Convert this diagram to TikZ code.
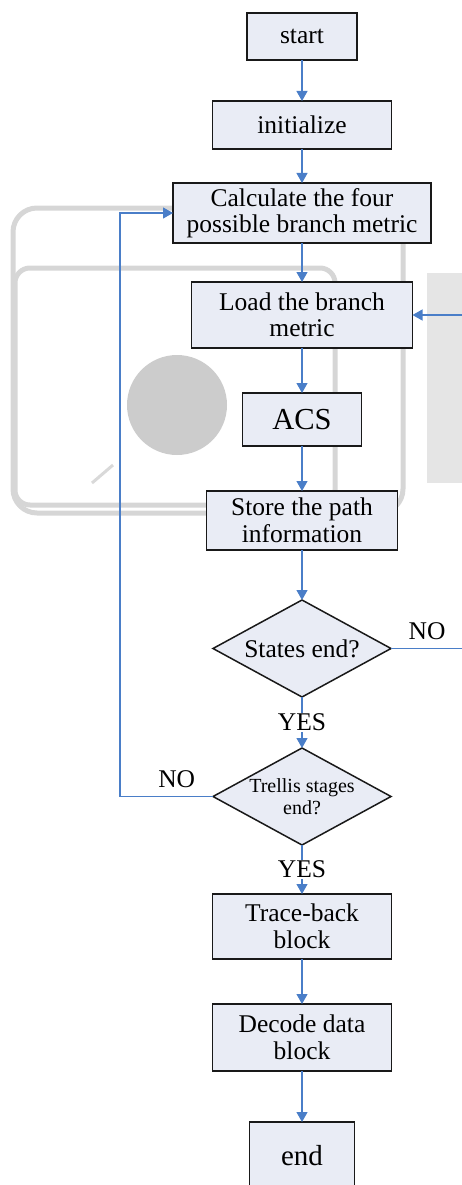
\documentclass[tikz,border=0pt]{standalone}
\usepackage{fontspec}
\setmainfont{Liberation Serif}
\usetikzlibrary{arrows.meta,positioning,shapes.geometric}
\definecolor{boxfill}{HTML}{E9ECF5}
\definecolor{flowblue}{HTML}{4A7EC8}
\definecolor{markgray}{HTML}{D6D6D6}
\begin{document}
\begin{tikzpicture}[
  x=1pt,y=1pt,
  font=\fontsize{25.5}{26.5}\selectfont,
  cell/.style={draw=black!90,line width=1.5pt,fill=boxfill,align=center,inner sep=0pt,outer sep=0pt},
  decision/.style={cell,diamond,minimum width=178pt,minimum height=97pt,aspect=1.835},
  arrow/.style={-{Triangle[length=10pt,width=11pt]},draw=flowblue,line width=1.2pt},
  answer/.style={fill=white,inner sep=1pt}
]
\useasboundingbox (0,0) rectangle (462,-1185);
% faint background mark
\draw[markgray,line width=5pt,rounded corners=24pt] (13,-208) rectangle (403,-513);
\draw[markgray,line width=5pt,rounded corners=15pt] (15,-268) rectangle (335,-505);
\fill[black!20] (177,-405) circle (50);
\fill[black!10] (427,-273) rectangle (470,-483);
\draw[black!15,line width=3pt] (92,-483) -- (113,-465);
% flow
\node[cell,minimum width=110pt,minimum height=47pt] (start) at (302,-36.5) {start};
\node[cell,below=41pt of start,minimum width=179pt,minimum height=48pt] (init) {initialize};
\node[cell,below=34pt of init,minimum width=258pt,minimum height=60pt] (calc)
  {Calculate the four\\possible branch metric};
\node[cell,below=39pt of calc,minimum width=221pt,minimum height=66pt] (load)
  {Load the branch\\metric};
\node[cell,below=45pt of load,minimum width=119pt,minimum height=53pt,
  font=\fontsize{30.5}{32}\selectfont] (acs) {ACS};
\node[cell,below=45pt of acs,minimum width=191pt,minimum height=59pt] (store)
  {Store the path\\information};
\node[decision,below=50pt of store] (states) {States end?};
\node[decision,below=51pt of states,font=\fontsize{20}{22}\selectfont] (trellis)
  {Trellis stages\\end?};
\node[cell,below=49pt of trellis,minimum width=179pt,minimum height=65pt] (trace)
  {Trace-back\\block};
\node[cell,below=45pt of trace,minimum width=179pt,minimum height=67pt] (decode)
  {Decode data\\block};
\node[cell,below=51pt of decode,minimum width=105pt,minimum height=68pt,
  font=\fontsize{29}{31}\selectfont] (end) {end};
\draw[arrow] (start) -- (init);
\draw[arrow] (init) -- (calc);
\draw[arrow] (calc) -- (load);
\draw[arrow] (load) -- (acs);
\draw[arrow] (acs) -- (store);
\draw[arrow] (store) -- (states);
\draw[arrow] (states) -- node[answer] {YES} (trellis);
\draw[arrow] (trellis) -- node[answer] {YES} (trace);
\draw[arrow] (trace) -- (decode);
\draw[arrow] (decode) -- (end);
\draw[arrow] (states.east) -- node[above=5pt,pos=0.4] {NO} ++(90pt,0) |- (load.east);
\draw[arrow] (trellis.west) -- node[above=5pt,pos=0.39] {NO} ++(-93pt,0) |- (calc.west);
\end{tikzpicture}
\end{document}
